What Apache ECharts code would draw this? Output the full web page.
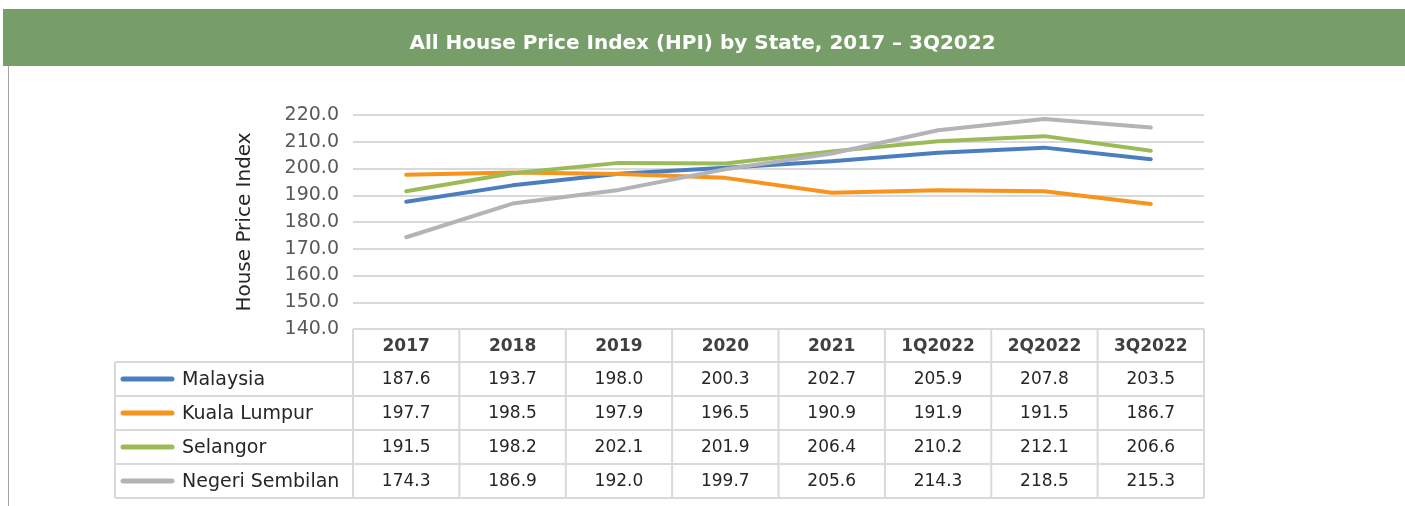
<!DOCTYPE html>
<html><head><meta charset="utf-8">
<script src="https://cdn.jsdelivr.net/npm/echarts@6/dist/echarts.min.js"></script>
<style>html,body{margin:0;padding:0;background:#fff}#c{width:1405px;height:506px}</style>
</head><body><div id="c"></div>
<script>
const categories = ['2017','2018','2019','2020','2021','1Q2022','2Q2022','3Q2022'];
const seriesNames = ['Malaysia','Kuala Lumpur','Selangor','Negeri Sembilan'];
const malaysia = [187.6,193.7,198.0,200.3,202.7,205.9,207.8,203.5];
const kualaLumpur = [197.7,198.5,197.9,196.5,190.9,191.9,191.5,186.7];
const selangor = [191.5,198.2,202.1,201.9,206.4,210.2,212.1,206.6];
const negeriSembilan = [174.3,186.9,192.0,199.7,205.6,214.3,218.5,215.3];
const seriesValues = [malaysia, kualaLumpur, selangor, negeriSembilan];
const colors = ['#4A7EBF','#F7941D','#9BBB59','#B4B4B8'];

const FONT = 'DejaVu Sans';
const chart = echarts.init(document.getElementById('c'), null, {renderer:'canvas'});
const G = {left:353, right:201, top:115, bottom:177};
chart.setOption({
  animation:false,
  textStyle:{fontFamily:FONT},
  title:{text:'All House Price Index (HPI) by State, 2017 \u2013 3Q2022', left:'center', top:29,
    textStyle:{color:'#fff', fontSize:20, fontWeight:'bold', fontFamily:FONT}},
  grid:G,
  xAxis:{type:'category', data:categories, boundaryGap:true,
    axisLine:{show:false}, axisTick:{show:false}, axisLabel:{show:false}, splitLine:{show:false}},
  yAxis:{type:'value', min:140, max:220, interval:10,
    name:'House Price Index', nameLocation:'middle', nameGap:98,
    nameTextStyle:{fontSize:20, color:'#262626', fontFamily:FONT},
    axisLine:{show:false}, axisTick:{show:false},
    axisLabel:{formatter:v=>v.toFixed(1), fontSize:19, color:'#595959', margin:14, fontFamily:FONT},
    splitLine:{lineStyle:{color:'#D9D9D9', width:2}}},
  series: seriesNames.map((n,i)=>({name:n, type:'line', data:seriesValues[i], showSymbol:false, symbol:'none',
    lineStyle:{color:colors[i], width:4, cap:'round', join:'round'}, itemStyle:{color:colors[i]}}))
});

const gfx = [];
gfx.push({type:'rect', shape:{x:3, y:9, width:1402, height:57}, style:{fill:'#779E69'}, z:-1});
gfx.push({type:'line', shape:{x1:8.5, y1:66, x2:8.5, y2:506}, style:{stroke:'#A6A6A6', lineWidth:1}});
const colX = categories.map((c,i)=>chart.convertToPixel({xAxisIndex:0}, i));
const colW = colX.length>1 ? colX[1]-colX[0] : 106;
const left0 = colX[0]-colW/2, right0 = colX[colX.length-1]+colW/2;
const headTop = chart.convertToPixel({yAxisIndex:0}, 140);
const rowH = 34, headH = 33;
const tableLeft = 115;
const lc = '#D9D9D9', lw = 2;
gfx.push({type:'line', shape:{x1:left0, y1:headTop, x2:right0, y2:headTop}, style:{stroke:lc, lineWidth:lw}});
const rowTops = [];
for (let r=0;r<=seriesNames.length;r++) rowTops.push(headTop+headH+r*rowH);
rowTops.forEach(y=>gfx.push({type:'line', shape:{x1:tableLeft, y1:y, x2:right0, y2:y}, style:{stroke:lc, lineWidth:lw}}));
const bottomY = rowTops[rowTops.length-1];
for (let k=0;k<=categories.length;k++){
  const x = left0 + k*colW;
  gfx.push({type:'line', shape:{x1:x, y1:headTop, x2:x, y2:bottomY}, style:{stroke:lc, lineWidth:lw}});
}
gfx.push({type:'line', shape:{x1:tableLeft, y1:rowTops[0], x2:tableLeft, y2:bottomY}, style:{stroke:lc, lineWidth:lw}});
categories.forEach((c,i)=>gfx.push({type:'text', x:colX[i], y:headTop+headH/2+1,
  style:{text:c, font:'bold 17px "'+FONT+'"', fill:'#404040', textAlign:'center', textVerticalAlign:'middle'}}));
seriesNames.forEach((n,r)=>{
  const cy = rowTops[r]+rowH/2;
  gfx.push({type:'line', shape:{x1:123, y1:cy, x2:172, y2:cy}, style:{stroke:colors[r], lineWidth:5, lineCap:'round'}});
  gfx.push({type:'text', x:182, y:cy+1, style:{text:n, font:'19px "'+FONT+'"', fill:'#262626', textAlign:'left', textVerticalAlign:'middle'}});
  seriesValues[r].forEach((v,i)=>gfx.push({type:'text', x:colX[i], y:cy+1,
    style:{text:v.toFixed(1), font:'17px "'+FONT+'"', fill:'#262626', textAlign:'center', textVerticalAlign:'middle'}}));
});
chart.setOption({graphic:gfx});
</script></body></html>
